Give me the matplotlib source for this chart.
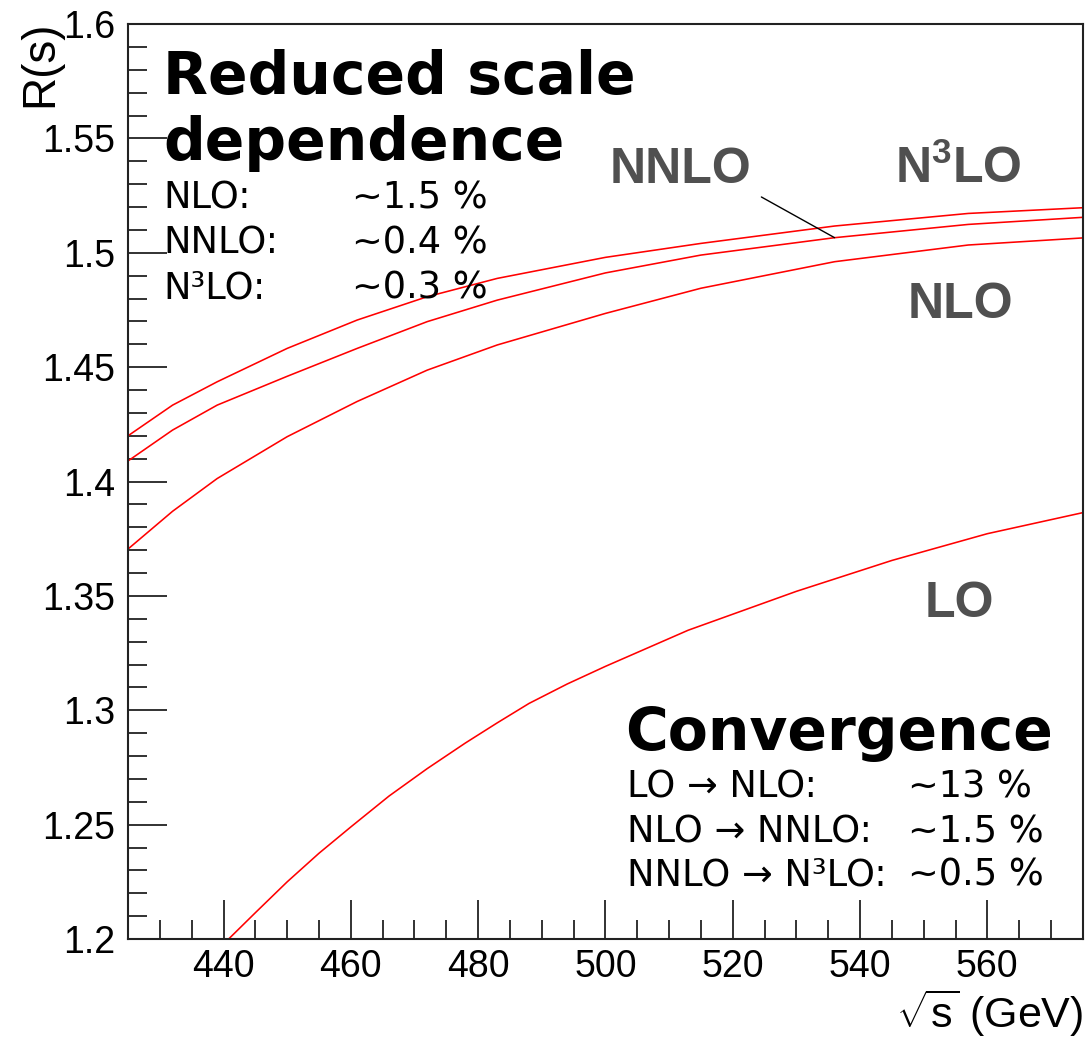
import matplotlib
matplotlib.use("Agg")
import matplotlib.pyplot as plt
from matplotlib.ticker import MultipleLocator, FormatStrFormatter

plt.rcParams["mathtext.fontset"] = "custom"
plt.rcParams["mathtext.rm"] = "Liberation Sans"
plt.rcParams["mathtext.it"] = "Liberation Sans"
plt.rcParams["mathtext.bf"] = "Liberation Sans:bold"

# sqrt(s) in GeV and R(s) for each perturbative order
energy_hi = [425, 432, 439, 450, 461, 472, 483, 500, 515, 536, 557, 575]
r_n3lo = [1.4200, 1.4334, 1.4436, 1.4582, 1.4706, 1.4808, 1.4888, 1.4980,
          1.5041, 1.5117, 1.5172, 1.5197]
r_nnlo = [1.4090, 1.4225, 1.4334, 1.4460, 1.4582, 1.4699, 1.4793, 1.4912,
          1.4990, 1.5066, 1.5124, 1.5155]
r_nlo = [1.3705, 1.3870, 1.4013, 1.4196, 1.4350, 1.4487, 1.4597, 1.4735,
         1.4845, 1.4961, 1.5034, 1.5065]

energy_lo = [440.8, 445, 450, 455, 460, 466, 472, 478, 483, 488, 494, 500,
             513, 530, 545, 560, 575]
r_lo = [1.2000, 1.2115, 1.2250, 1.2375, 1.2490, 1.2625, 1.2745, 1.2857,
        1.2945, 1.3030, 1.3115, 1.3192, 1.3350, 1.3520, 1.3655, 1.3772, 1.3864]

x_range = (425, 575)
y_range = (1.2, 1.6)

scale_rows = [("NLO:", "~1.5 %"), ("NNLO:", "~0.4 %"), ("N³LO:", "~0.3 %")]
conv_rows = [("LO → NLO:", "~13 %"), ("NLO → NNLO:", "~1.5 %"),
             ("NNLO → N³LO:", "~0.5 %")]

fig = plt.figure(figsize=(10.85, 10.45), dpi=100)
ax = fig.add_axes([0.118, 0.1014, 0.880, 0.8756])

line_kw = dict(color="#ff0000", lw=1.15)
for xs, ys in [(energy_hi, r_n3lo), (energy_hi, r_nnlo), (energy_hi, r_nlo),
               (energy_lo, r_lo)]:
    ax.plot(xs, ys, **line_kw)

ax.set_xlim(*x_range)
ax.set_ylim(*y_range)

# ROOT-like frame: ticks inside, only on left and bottom
ax.xaxis.set_major_locator(MultipleLocator(20))
ax.xaxis.set_minor_locator(MultipleLocator(5))
ax.yaxis.set_major_locator(MultipleLocator(0.05))
ax.yaxis.set_minor_locator(MultipleLocator(0.01))
ax.yaxis.set_major_formatter(FormatStrFormatter("%g"))
ax.tick_params(which="both", direction="in", top=False, right=False,
               color="#222222", width=1.3)
ax.tick_params(which="major", length=28, labelsize=27, pad=9)
ax.tick_params(which="minor", length=14)
ax.tick_params(axis="x", which="major", pad=7)
for lab in ax.get_xticklabels() + ax.get_yticklabels():
    lab.set_family("Liberation Sans")
for sp in ax.spines.values():
    sp.set_linewidth(1.5)
    sp.set_color("#222222")

fig.text(0.037, 0.980, "R(s)", rotation=90, ha="center", va="top",
         fontsize=33, family="Liberation Sans")
fig.text(0.998, 0.006, r"$\sqrt{s}$ (GeV)", ha="right", va="bottom",
         fontsize=31, family="Liberation Sans")

# Curve labels
gray = "#505050"
lab_kw = dict(fontsize=36, fontweight="bold", color=gray,
              family="Liberation Sans", ha="left", va="baseline")
ax.text(500.6, 1.5305, "NNLO", **lab_kw)
ax.text(545.5, 1.5305, r"N$^{\mathbf{3}}$LO", **lab_kw)
ax.text(547.4, 1.4715, "NLO", **lab_kw)
ax.text(550.2, 1.3408, "LO", **lab_kw)

ax.annotate("", xy=(536, r_nnlo[energy_hi.index(536)]), xytext=(524.5, 1.5244),
            arrowprops=dict(arrowstyle="-", color="black", lw=1.0,
                            shrinkA=0, shrinkB=0))

# Text blocks
head_kw = dict(transform=ax.transAxes, fontsize=42, fontweight="bold",
               family="DejaVu Sans", ha="left", va="baseline")
row_kw = dict(transform=ax.transAxes, fontsize=26.5, family="DejaVu Sans",
              ha="left", va="baseline")

ax.text(0.0366, 0.9235, "Reduced scale", **head_kw)
ax.text(0.0366, 0.8514, "dependence", **head_kw)
for (name, val), fy in zip(scale_rows, [0.7989, 0.7497, 0.7005]):
    ax.text(0.0366, fy, name, **row_kw)
    ax.text(0.2346, fy, val, **row_kw)

ax.text(0.5204, 0.2066, "Convergence", **head_kw)
for (name, val), fy in zip(conv_rows, [0.1552, 0.1060, 0.0585]):
    ax.text(0.5225, fy, name, **row_kw)
    ax.text(0.8168, fy, val, **row_kw)

fig.savefig("out.png", dpi=100)
